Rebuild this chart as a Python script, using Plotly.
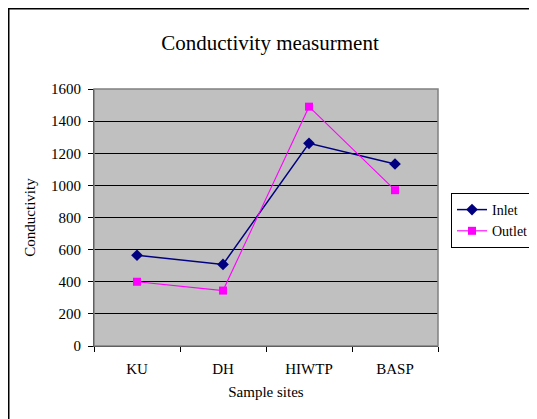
import plotly.graph_objects as go

sites = ["KU", "DH", "HIWTP", "BASP"]
inlet = [565, 508, 1262, 1133]
outlet = [400, 345, 1490, 970]
y_ticks = [0, 200, 400, 600, 800, 1000, 1200, 1400, 1600]

font_family = "Liberation Serif, Times New Roman, serif"

# The page body has an 8px margin, so the figure is shifted by 8px.
W, H = 529, 411
L, R, T, B = 86, 99, 81, 73
PW = W - L - R
PH = H - T - B

fig = go.Figure()
fig.add_trace(go.Scatter(
    x=sites, y=inlet, name="Inlet", mode="lines+markers",
    line=dict(color="#000080", width=1.5),
    marker=dict(symbol="diamond", size=9, color="#000080"),
))
fig.add_trace(go.Scatter(
    x=sites, y=outlet, name="Outlet", mode="lines+markers",
    line=dict(color="#FF00FF", width=1.1),
    marker=dict(symbol="square", size=8, color="#FF00FF"),
))

fig.update_layout(
    width=W, height=H,
    margin=dict(l=L, r=R, t=T, b=B, autoexpand=False),
    paper_bgcolor="white",
    plot_bgcolor="#C0C0C0",
    font=dict(family=font_family, size=15, color="black"),
    title=dict(text="Conductivity measurment", x=(270 - 8) / W, xref="container",
               xanchor="center",
               y=1 - 35 / H, yanchor="middle",
               font=dict(family=font_family, size=21, color="black")),
    showlegend=True,
    legend=dict(
        xref="container", yref="container",
        x=443 / W, xanchor="left",
        y=1 - 185 / H, yanchor="top",
        bgcolor="white", bordercolor="black", borderwidth=1,
        font=dict(family=font_family, size=14),
        itemwidth=30, tracegroupgap=2,
    ),
    xaxis=dict(
        title=dict(text="Sample sites", standoff=10,
                   font=dict(family=font_family, size=15)),
        type="category", range=[-0.5, len(sites) - 0.5],
        tickson="boundaries", ticks="outside", ticklen=5, tickcolor="black",
        ticklabelstandoff=9, automargin=False,
        showline=True, linecolor="black", linewidth=1,
        showgrid=False, zeroline=False,
        tickfont=dict(family=font_family, size=15),
    ),
    yaxis=dict(
        title=dict(text="Conductivity", standoff=11,
                   font=dict(family=font_family, size=15)),
        range=[0, 1600], tickvals=y_ticks, ticktext=[str(v) for v in y_ticks],
        ticks="outside", ticklen=5, tickcolor="black",
        ticklabelstandoff=4, automargin=False,
        showline=True, linecolor="black", linewidth=1,
        showgrid=True, gridcolor="black", gridwidth=1,
        zeroline=False,
        tickfont=dict(family=font_family, size=15),
    ),
    shapes=[
        # plot area border
        dict(type="rect", xref="paper", yref="paper", x0=0, x1=1, y0=0, y1=1,
             line=dict(color="#808080", width=1.5), fillcolor="rgba(0,0,0,0)",
             layer="above"),
        # outer chart frame (cut off at right and bottom)
        dict(type="rect", xref="paper", yref="paper",
             x0=(0.75 - L) / PW, x1=1.8, y0=-0.6, y1=(T + PH - 0.75) / PH,
             line=dict(color="black", width=1.5), fillcolor="rgba(0,0,0,0)",
             layer="above"),
    ],
)

fig.write_html("out.html")
